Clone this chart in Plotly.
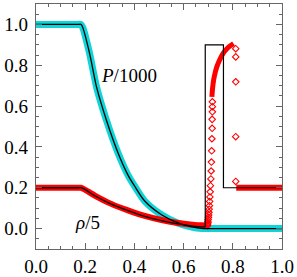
import plotly.graph_objects as go

# ---- exact solution (black lines) ----
p_exact_x = [0.0, 0.17, 0.184, 0.218, 0.246, 0.286, 0.334, 0.374, 0.402, 0.442, 0.51, 0.578, 0.646, 0.68, 0.72, 1.0]
p_exact_y = [1.0, 1.0, 1.0, 0.857, 0.694, 0.532, 0.369, 0.262, 0.206, 0.135, 0.068, 0.028, 0.006, 0.0, 0.0, 0.0]

rho_exact_rare_x = [0.0, 0.17, 0.186, 0.239, 0.306, 0.374, 0.442, 0.51, 0.578, 0.646, 0.66, 0.688]
rho_exact_rare_y = [0.2, 0.2, 0.2, 0.161, 0.12, 0.088, 0.06, 0.039, 0.023, 0.011, 0.009, 0.009]

rho_exact_jump_x = [0.688, 0.688, 0.762, 0.762, 1.0]
rho_exact_jump_y = [0.009, 0.9, 0.9, 0.2, 0.2]

# ---- numerical P/1000 (cyan band) ----
p_num_x = [0.0, 0.17, 0.182, 0.19, 0.218, 0.246, 0.286, 0.334, 0.374, 0.402, 0.442, 0.51, 0.578, 0.646, 0.69, 0.73, 1.0]
p_num_y = [1.0, 1.0, 1.0, 0.985, 0.857, 0.694, 0.532, 0.369, 0.262, 0.206, 0.135, 0.068, 0.026, 0.004, 0.0, 0.0, 0.0]

# ---- numerical rho/5 (red) : dense band parts ----
rho_band_x = [0.0, 0.17, 0.182, 0.195, 0.239, 0.306, 0.374, 0.442, 0.51, 0.578, 0.646, 0.69, 0.697]
rho_band_y = [0.2, 0.2, 0.2, 0.193, 0.162, 0.121, 0.089, 0.062, 0.042, 0.027, 0.018, 0.015, 0.014]

rho_top_x = [0.715, 0.718, 0.722, 0.728, 0.735, 0.745, 0.756, 0.766, 0.776, 0.79, 0.803]
rho_top_y = [0.645, 0.69, 0.727, 0.762, 0.792, 0.822, 0.849, 0.867, 0.881, 0.895, 0.906]

rho_right_x = [0.814, 1.0]
rho_right_y = [0.2, 0.2]

# ---- numerical rho/5 : separated diamonds ----
rho_pts_x = [0.717, 0.717, 0.717, 0.716, 0.716, 0.715, 0.714, 0.713, 0.712, 0.711, 0.709, 0.708,
             0.707, 0.706, 0.705, 0.704, 0.703, 0.702, 0.701, 0.700, 0.699, 0.699, 0.698, 0.697, 0.697,
             0.812, 0.812, 0.812, 0.812, 0.812]
rho_pts_y = [0.621, 0.597, 0.572, 0.535, 0.491, 0.440, 0.381, 0.326, 0.282, 0.243, 0.210, 0.180,
             0.155, 0.133, 0.112, 0.095, 0.080, 0.067, 0.055, 0.045, 0.036, 0.029, 0.023, 0.018, 0.014,
             0.881, 0.841, 0.719, 0.450, 0.231]

x_ticks = [0.0, 0.2, 0.4, 0.6, 0.8, 1.0]
y_ticks = [0.0, 0.2, 0.4, 0.6, 0.8, 1.0]

CYAN = "#10d4d8"
RED = "#ff0000"
AX = "#666666"
SM = 0.7

fig = go.Figure()
fig.add_trace(go.Scatter(x=p_num_x, y=p_num_y, mode="lines",
                         line=dict(color=CYAN, width=7, shape="spline", smoothing=SM), cliponaxis=False))
fig.add_trace(go.Scatter(x=rho_band_x, y=rho_band_y, mode="lines",
                         line=dict(color=RED, width=6, shape="spline", smoothing=SM), cliponaxis=False))
fig.add_trace(go.Scatter(x=rho_top_x, y=rho_top_y, mode="lines",
                         line=dict(color=RED, width=5, shape="spline", smoothing=SM)))
fig.add_trace(go.Scatter(x=rho_right_x, y=rho_right_y, mode="lines",
                         line=dict(color=RED, width=6), cliponaxis=False))
fig.add_trace(go.Scatter(x=rho_pts_x, y=rho_pts_y, mode="markers",
                         marker=dict(symbol="diamond-open", size=5, color=RED,
                                     line=dict(width=1.1, color=RED))))
fig.add_trace(go.Scatter(x=p_exact_x, y=p_exact_y, mode="lines",
                         line=dict(color="black", width=1.3, shape="spline", smoothing=SM)))
fig.add_trace(go.Scatter(x=rho_exact_rare_x, y=rho_exact_rare_y, mode="lines",
                         line=dict(color="black", width=1.3, shape="spline", smoothing=SM)))
fig.add_trace(go.Scatter(x=rho_exact_jump_x, y=rho_exact_jump_y, mode="lines",
                         line=dict(color="black", width=1.2)))

axis_common = dict(
    ticks="inside", ticklen=6, tickwidth=1.3, tickcolor=AX,
    showline=True, linecolor=AX, linewidth=1.3, mirror="ticks",
    showgrid=False, zeroline=False, tickformat=".1f", automargin=False,
    tickfont=dict(family="Liberation Serif", size=19, color="black"),
    minor=dict(dtick=0.05, ticks="inside", ticklen=3, tickwidth=1.3, tickcolor=AX, showgrid=False),
)
fig.update_xaxes(range=[0, 1], tickvals=x_ticks, **axis_common)
fig.update_yaxes(range=[-0.1, 1.1], tickvals=y_ticks, ticklabelstandoff=3, **axis_common)

fig.add_annotation(x=0.378, y=0.748, text="<i>P</i>/1000", showarrow=False,
                   font=dict(family="Liberation Serif", size=19, color="black"),
                   xanchor="center", yanchor="middle")
fig.add_annotation(x=0.208, y=0.03, text="<i>ρ</i>/5", showarrow=False,
                   font=dict(family="Liberation Serif", size=19, color="black"),
                   xanchor="center", yanchor="middle")

fig.update_layout(width=297, height=277, margin=dict(l=36, r=15, t=4, b=28),
                  plot_bgcolor="white", paper_bgcolor="white", showlegend=False)

fig.write_html("out.html", config={"displayModeBar": False},
               post_script="document.body.style.margin='0';")
